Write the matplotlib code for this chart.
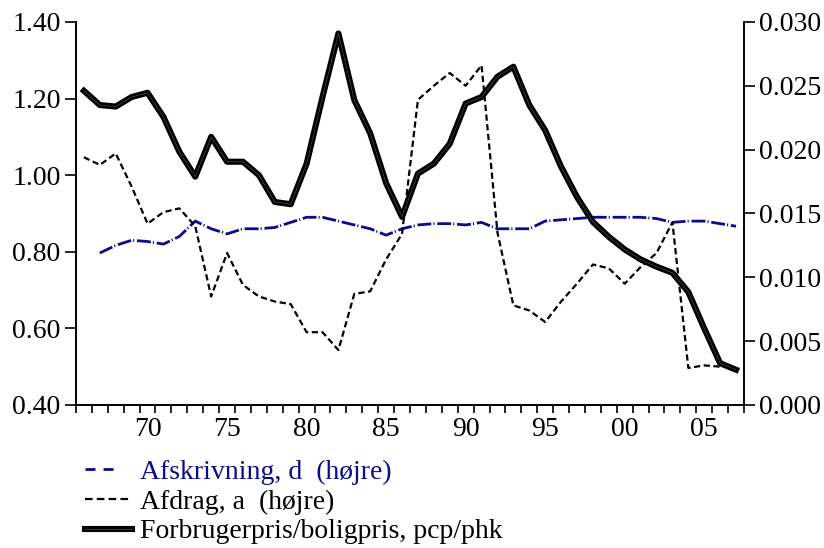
import matplotlib
matplotlib.use("Agg")
import matplotlib.pyplot as plt
import matplotlib.patheffects as pe
from matplotlib.lines import Line2D
import numpy as np

plt.rcParams['font.family'] = ['Liberation Serif', 'DejaVu Serif']
plt.rcParams['lines.scale_dashes'] = False

# data, annual 1966-2007
years = list(range(1966, 2008))

# Forbrugerpris/boligpris (left axis)
pcp_phk = [1.220, 1.183, 1.179, 1.204, 1.215, 1.152, 1.061, 0.996, 1.100, 1.035,
           1.035, 1.000, 0.930, 0.924, 1.030, 1.204, 1.370, 1.196, 1.109, 0.979,
           0.891, 1.004, 1.030, 1.082, 1.187, 1.204, 1.257, 1.283, 1.183, 1.117,
           1.022, 0.943, 0.878, 0.839, 0.806, 0.780, 0.761, 0.745, 0.695, 0.600,
           0.509, 0.492]

# Afdrag, a (right axis), 1966-2006
afdrag_years = list(range(1966, 2007))
afdrag = [0.0194, 0.0188, 0.0197, 0.0171, 0.0142, 0.0151, 0.0154, 0.0140, 0.0085, 0.0119,
          0.0094, 0.0085, 0.0081, 0.0079, 0.0057, 0.0057, 0.0043, 0.0087, 0.0089, 0.0114,
          0.0134, 0.0239, 0.0250, 0.0260, 0.0250, 0.0266, 0.0135, 0.0078, 0.0074, 0.0065,
          0.0081, 0.0095, 0.0110, 0.0107, 0.0095, 0.0108, 0.0119, 0.0143, 0.0029, 0.0031,
          0.0030]

# Afskrivning, d (right axis), 1967-2007
afskr_years = list(range(1967, 2008))
afskr = [0.0119, 0.0125, 0.0129, 0.0128, 0.0126, 0.0132, 0.0144, 0.0138, 0.0134, 0.0138,
         0.0138, 0.0139, 0.0143, 0.0147, 0.0147, 0.0144, 0.0141, 0.0138, 0.0133, 0.0138,
         0.0141, 0.0142, 0.0142, 0.0141, 0.0143, 0.0138, 0.0138, 0.0138, 0.0144, 0.0145,
         0.0146, 0.0147, 0.0147, 0.0147, 0.0147, 0.0146, 0.0143, 0.0144, 0.0144, 0.0142,
         0.0140]

tick_years = [1970, 1975, 1980, 1985, 1990, 1995, 2000, 2005]
tick_labels = ['70', '75', '80', '85', '90', '95', '00', '05']

navy = '#0a0a8c'

fig = plt.figure(figsize=(8.24, 5.48), dpi=100)
ax = fig.add_axes([0.0922, 0.261, 0.8107, 0.699])
ax2 = ax.twinx()

# years plotted at mid-year
x_pcp = np.array(years) + 0.5
x_afd = np.array(afdrag_years) + 0.5
x_afs = np.array(afskr_years) + 0.5

solid_fx = [pe.Stroke(linewidth=4.4, foreground='black'), pe.Normal()]
ax.plot(x_pcp, pcp_phk, color='#4a4a4a', lw=0.5, path_effects=solid_fx, zorder=3)
ax2.plot(x_afs, afskr, color=navy, lw=2.0, dashes=(10, 1.5, 0.8, 2), zorder=2)
ax2.plot(x_afd, afdrag, color='black', lw=1.6, dashes=(4.5, 2.5), zorder=2)

ax.set_zorder(ax2.get_zorder() + 1)
ax.patch.set_visible(False)

ax.set_xlim(1966, 2008)
ax.set_ylim(0.40, 1.40)
ax2.set_ylim(0.0, 0.030)
ax.set_yticks([0.40, 0.60, 0.80, 1.00, 1.20, 1.40])
ax.set_yticklabels(['%.2f' % v for v in [0.40, 0.60, 0.80, 1.00, 1.20, 1.40]])
ax2.set_yticks([0.000, 0.005, 0.010, 0.015, 0.020, 0.025, 0.030])
ax2.set_yticklabels(['%.3f' % v for v in [0.000, 0.005, 0.010, 0.015, 0.020, 0.025, 0.030]])

ax.set_xticks(np.array(tick_years) + 0.5)
ax.set_xticklabels(tick_labels)
ax.set_xticks(np.arange(1966, 2009), minor=True)
ax.tick_params(axis='x', which='major', length=0, pad=9, labelsize=20)
ax.tick_params(axis='x', which='minor', length=6, width=1.2, direction='out')
ax.tick_params(axis='y', length=8, width=1.2, direction='out', labelsize=20, pad=3)
ax2.tick_params(axis='y', length=8, width=1.2, direction='out', labelsize=20, pad=3)

for a in (ax, ax2):
    a.spines['top'].set_visible(False)
    for s in ('left', 'right', 'bottom'):
        a.spines[s].set_linewidth(1.2)

handles = [
    Line2D([], [], color=navy, lw=2.0, dashes=(7.2, 5.8, 7.2, 30)),
    Line2D([], [], color='black', lw=1.6, dashes=(5.5, 3)),
    Line2D([], [], color='#4a4a4a', lw=0.5, path_effects=solid_fx),
]
labels = ['Afskrivning, d  (højre)', 'Afdrag, a  (højre)', 'Forbrugerpris/boligpris, pcp/phk']
leg = fig.legend(handles, labels, loc='upper left', bbox_to_anchor=(0.103, 0.162),
                 frameon=False, fontsize=20, handlelength=1.69, handletextpad=0.29,
                 labelspacing=0.16, borderpad=0, borderaxespad=0)
leg.get_texts()[0].set_color(navy)

fig.savefig('out.png', dpi=100)
